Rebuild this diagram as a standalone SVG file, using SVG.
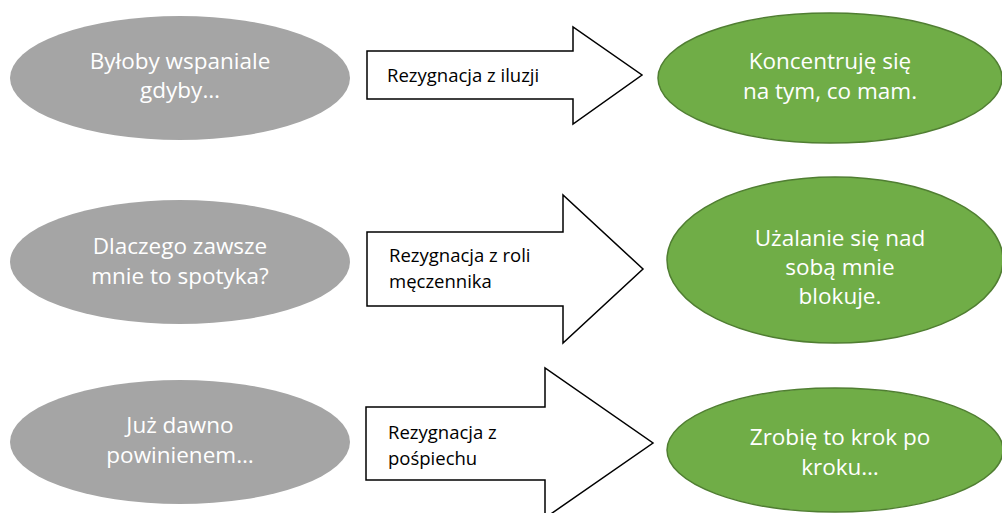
<svg xmlns="http://www.w3.org/2000/svg" width="1002" height="513" viewBox="0 0 1002 513">
<style>
.gray{fill:#A5A5A5;stroke:none}
.green{fill:#70AD47;stroke:#507E32;stroke-width:1.5}
.arrow{fill:#FFFFFF;stroke:#000000;stroke-width:1.5;stroke-linejoin:miter}
.et{font-family:"Open Sans","Liberation Sans",sans-serif;font-size:22.5px;fill:#FFFFFF;text-anchor:middle}
.at{font-family:"Open Sans","Liberation Sans",sans-serif;font-size:18.5px;fill:#000000}
</style>
<rect width="1002" height="513" fill="#FFFFFF"/>
<g id="node-a1">
<ellipse class="gray" cx="180" cy="78" rx="170" ry="62"/>
<text class="et" x="180" y="69">Byłoby wspaniale</text>
<text class="et" x="180" y="98">gdyby…</text>
</g>
<g id="node-a2">
<ellipse class="gray" cx="180" cy="262" rx="170" ry="62"/>
<text class="et" x="180" y="254">Dlaczego zawsze</text>
<text class="et" x="180" y="284">mnie to spotyka?</text>
</g>
<g id="node-a3">
<ellipse class="gray" cx="180" cy="442" rx="170" ry="62"/>
<text class="et" x="180" y="433">Już dawno</text>
<text class="et" x="180" y="463">powinienem…</text>
</g>
<g id="connectors">
<g id="arrow-1">
<polygon class="arrow" points="367,51 573,51 573,27 642,75 573,124 573,99 367,99"/>
<text class="at" x="387" y="82">Rezygnacja z iluzji</text>
</g>
<g id="arrow-2">
<polygon class="arrow" points="367,232 563,232 563,195 643,269 563,343 563,306 367,306"/>
<text class="at" x="389" y="262">Rezygnacja z roli</text>
<text class="at" x="389" y="288">męczennika</text>
</g>
<g id="arrow-3">
<polygon class="arrow" points="366,407 545,407 545,368 653,443 545,518 545,480 366,480"/>
<text class="at" x="388" y="439">Rezygnacja z</text>
<text class="at" x="388" y="465">pośpiechu</text>
</g>
</g>
<g id="node-b1">
<ellipse class="green" cx="830" cy="78" rx="172" ry="65"/>
<text class="et" x="830" y="69">Koncentruję się</text>
<text class="et" x="830" y="99">na tym, co mam.</text>
</g>
<g id="node-b2">
<ellipse class="green" cx="835" cy="260" rx="168" ry="83"/>
<text class="et" x="840" y="246">Użalanie się nad</text>
<text class="et" x="840" y="275">sobą mnie</text>
<text class="et" x="840" y="304">blokuje.</text>
</g>
<g id="node-b3">
<ellipse class="green" cx="835" cy="450" rx="168" ry="62"/>
<text class="et" x="840" y="445">Zrobię to krok po</text>
<text class="et" x="840" y="475">kroku…</text>
</g>
</svg>
